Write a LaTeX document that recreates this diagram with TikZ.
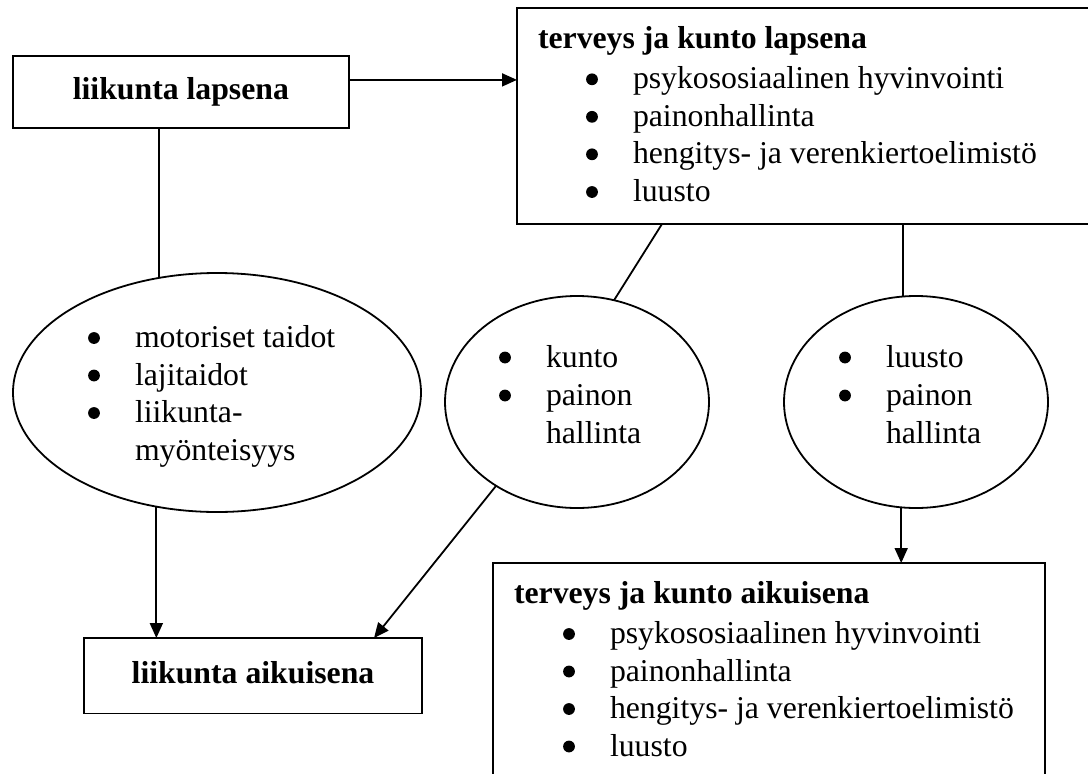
\documentclass[tikz,border=0pt]{standalone}
\usepackage{fontspec}
\setmainfont{Liberation Serif}
\usetikzlibrary{arrows.meta,shapes.geometric}
\newcommand{\mybul}{\llap{\makebox[0pt][c]{\tikz[baseline=0pt]\fill (0pt,9.5pt) circle (5.9pt);}\hspace{41pt}}}
\begin{document}
\fontsize{31.75pt}{38pt}\selectfont
\begin{tikzpicture}[x=1pt,y=-1pt,line width=1.8pt,
  box/.style={draw,rectangle,inner sep=0pt,outer sep=0pt,line width=1.8pt,text height=21.5pt,text depth=7pt},
  oval/.style={draw,ellipse,inner sep=0pt,outer sep=0pt,line width=1.8pt},
  lbl/.style={anchor=base west,inner sep=0pt,outer sep=0pt},
  arr/.style={-{Triangle[length=15pt,width=13pt]}}]
\useasboundingbox (0,0) rectangle (1088,774);
\clip (0,0) rectangle (1088,774);
% boxes
\node[box,minimum width=336.3pt,minimum height=72.3pt] (b1) at (180.9,91.9) {\bfseries liikunta lapsena};
\node[box,minimum width=578pt,minimum height=216pt] (b2) at (806,116) {};
\node[box,minimum width=338pt,minimum height=75.5pt] (b3) at (253,675.8) {\bfseries liikunta aikuisena};
\node[box,minimum width=552pt,minimum height=237pt] (b4) at (769,681.5) {};
% ellipses
\node[oval,minimum width=408pt,minimum height=239pt] (e1) at (217,392.5) {};
\node[oval,minimum width=264pt,minimum height=212pt] (e2) at (577,402) {};
\node[oval,minimum width=264pt,minimum height=212pt] (e3) at (916,402) {};
% texts box 2
\node[lbl] (t2h) at (538,48.5) {\bfseries terveys ja kunto lapsena};
\node[lbl] (t2a) at (633,88.8) {\mybul psykososiaalinen hyvinvointi};
\node[lbl] (t2b) at (633,126.3) {\mybul painonhallinta};
\node[lbl] (t2c) at (633,163.8) {\mybul hengitys- ja verenkiertoelimistö};
\node[lbl] (t2d) at (633,201.5) {\mybul luusto};
% texts box 4
\node[lbl] (t4h) at (514,603.5) {\bfseries terveys ja kunto aikuisena};
\node[lbl] (t4a) at (610,643.5) {\mybul psykososiaalinen hyvinvointi};
\node[lbl] (t4b) at (610,681) {\mybul painonhallinta};
\node[lbl] (t4c) at (610,718.5) {\mybul hengitys- ja verenkiertoelimistö};
\node[lbl] (t4d) at (610,756) {\mybul luusto};
% texts ellipse 1
\node[lbl] (t1a) at (135,347.5) {\mybul motoriset taidot};
\node[lbl] (t1b) at (135,385) {\mybul lajitaidot};
\node[lbl] (t1c) at (135,422.5) {\mybul liikunta-};
\node[lbl] (t1d) at (135,460) {myönteisyys};
% texts ellipse 2
\node[lbl] (t5a) at (546,367) {\mybul kunto};
\node[lbl] (t5b) at (546,405) {\mybul painon};
\node[lbl] (t5c) at (546,443) {hallinta};
% texts ellipse 3
\node[lbl] (t6a) at (886,367) {\mybul luusto};
\node[lbl] (t6b) at (886,405) {\mybul painon};
\node[lbl] (t6c) at (886,443) {hallinta};
% connectors
\coordinate (a1) at ([yshift=12pt]b1.east);
\draw[arr] (a1) -- (a1 -| b2.west);
\draw (e1.117.7 |- b1.south) -- (e1.117.7);
\draw[arr] (e1.242.3) -- (e1.242.3 |- b3.north);
\coordinate (a2) at ([xshift=145pt]b2.south west);
\draw (a2) -- (e2.70.2);
\coordinate (a3) at ([xshift=290pt]b3.north west);
\draw[arr] (e2.226.2) -- (a3);
\draw (e3.97.6 |- b2.south) -- (e3.97.6);
\draw[arr] (e3.262.4) -- (e3.262.4 |- b4.north);
\end{tikzpicture}
\end{document}
